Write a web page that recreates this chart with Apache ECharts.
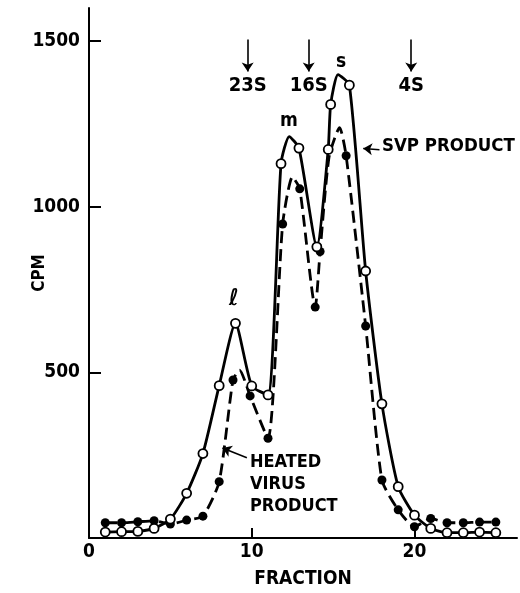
<!DOCTYPE html>
<html>
<head>
<meta charset="utf-8">
<script src="https://cdn.jsdelivr.net/npm/echarts@6/dist/echarts.min.js"></script>
<style>
html,body{margin:0;padding:0;background:#fff;}
#chart{width:520px;height:593px;}
</style>
</head>
<body>
<div id="chart"></div>
<script>
//SVP product, open circles
var svpFrac = [1,2,3,4,5,6,7,8,9,10,11,11.8,12.9,14,14.7,14.85,16,17,18,19,20,21,22,23,24,25];
var svpCpm = [18,19,20,29,57,135,255,460,648,459,432,1130,1177,879,1173,1309,1367,806,405,155,69,29,16,16,18,16];
//where the hand drawn curve tops out between circles
var svpCurveFrac = [12.3,15.3];
var svpCurveCpm = [1212,1399];

//heated virus product, filled circles
var heatFrac = [1,2,3,4,5,6,7,8,8.85,9.9,11,11.9,12.95,13.9,14.2,15.8,17,18,19,20,21,22,23,24,25];
var heatCpm = [46,46,49,52,42,54,66,170,477,429,301,948,1054,697,865,1154,640,175,85,34,59,46,46,48,48];
var heatCurveFrac = [9.25,12.5,14.75,15.4];
var heatCurveCpm = [507,1090,1150,1239];

//sedimentation markers
var markerNames = ['23S','16S','4S'];
var markerFrac = [9.75,13.5,19.8];

var xTicks = [10,20];
var xLabels = [0,10,20];
var yTicks = [500,1000,1500];

var FONT = "'DejaVu Sans Condensed','DejaVu Sans',sans-serif";

function pairs(xs, ys) {
	var out = [];
	for (var i = 0; i < xs.length; i++) {
		out.push([xs[i], ys[i]]);
	}
	return out;
}
//curve goes through circles and the extra curve points, sorted by fraction
function curve(xs, ys, cx, cy) {
	var all = pairs(xs, ys).concat(pairs(cx, cy));
	all.sort(function(a, b) { return a[0] - b[0]; });
	return all;
}

var markerLines = [];
for (var i = 0; i < markerNames.length; i++) {
	markerLines.push([
		{ coord: [markerFrac[i], 1505] },
		{ coord: [markerFrac[i], 1408], name: markerNames[i] }
	]);
}

var chart = echarts.init(document.getElementById('chart'));
var option = {
	animation: false,
	backgroundColor: '#fff',
	grid: { left: 89, right: 3, top: 8, bottom: 55, outerBoundsMode: 'none' },
	xAxis: {
		type: 'value', min: 0, max: 26.3,
		name: 'FRACTION', nameLocation: 'middle', nameGap: 32, nameMoveOverlap: false,
		nameTextStyle: { fontFamily: FONT, fontWeight: 'bold', fontSize: 19, color: '#000' },
		axisLine: { lineStyle: { color: '#000', width: 2 } },
		axisTick: { inside: true, length: 10, lineStyle: { color: '#000', width: 2 }, customValues: xTicks },
		axisLabel: { customValues: xLabels, margin: 5, fontFamily: FONT, fontWeight: 'bold', fontSize: 19, color: '#000' },
		splitLine: { show: false }
	},
	yAxis: {
		type: 'value', min: 0, max: 1600,
		name: 'CPM', nameLocation: 'middle', nameGap: 41, nameRotate: 90, nameMoveOverlap: false,
		nameTextStyle: { fontFamily: FONT, fontWeight: 'bold', fontSize: 17, color: '#000' },
		axisLine: { lineStyle: { color: '#000', width: 2 } },
		axisTick: { inside: true, length: 12, lineStyle: { color: '#000', width: 2 }, customValues: yTicks },
		axisLabel: {
			customValues: yTicks, margin: 9, fontFamily: FONT, fontWeight: 'bold', fontSize: 19, color: '#000',
			formatter: function(v) { return String(v); }
		},
		splitLine: { show: false }
	},
	series: [
		{
			type: 'line', name: 'heated line',
			data: curve(heatFrac, heatCpm, heatCurveFrac, heatCurveCpm),
			smooth: 0.2, showSymbol: false, symbol: 'none',
			lineStyle: { color: '#000', width: 2.8, type: [12, 6] },
			z: 2
		},
		{
			type: 'line', name: 'svp line',
			data: curve(svpFrac, svpCpm, svpCurveFrac, svpCurveCpm),
			smooth: 0.2, showSymbol: false, symbol: 'none',
			lineStyle: { color: '#000', width: 2.8 },
			z: 3,
			markLine: {
				silent: true, symbol: ['none', 'arrow'], symbolSize: 9,
				lineStyle: { color: '#000', width: 1.6, type: 'solid' },
				label: { show: true, position: 'end', distance: 4, formatter: '{b}', fontFamily: FONT, fontWeight: 'bold', fontSize: 20, color: '#000' },
				data: markerLines.concat([
					[{ coord: [17.85, 1172] }, { coord: [16.85, 1176], label: { show: false } }],
					[{ coord: [9.7, 242] }, { coord: [8.2, 272], label: { show: false } }]
				])
			}
		},
		{
			type: 'scatter', name: 'HEATED VIRUS PRODUCT',
			data: pairs(heatFrac, heatCpm),
			symbol: 'circle', symbolSize: 9,
			itemStyle: { color: '#000', opacity: 1 },
			z: 4
		},
		{
			type: 'scatter', name: 'SVP PRODUCT',
			data: pairs(svpFrac, svpCpm),
			symbol: 'circle', symbolSize: 9,
			itemStyle: { color: '#fff', borderColor: '#000', borderWidth: 1.8, opacity: 1 },
			z: 5
		}
	],
	graphic: [
		{ type: 'text', left: 382, top: 137, style: { text: 'SVP PRODUCT', font: 'bold 18.5px ' + FONT, fill: '#000' } },
		{ type: 'text', left: 250, top: 451, style: { text: 'HEATED\nVIRUS\nPRODUCT', font: 'bold 18px ' + FONT, lineHeight: 22, fill: '#000' } },
		{ type: 'text', left: 229, top: 288, style: { text: 'ℓ', font: 'bold 23px ' + FONT, fill: '#000' } },
		{ type: 'text', left: 280, top: 112, style: { text: 'm', font: 'bold 19px ' + FONT, fill: '#000' } },
		{ type: 'text', left: 336, top: 53, style: { text: 's', font: 'bold 19px ' + FONT, fill: '#000' } }
	]
};
chart.setOption(option);
</script>
</body>
</html>
